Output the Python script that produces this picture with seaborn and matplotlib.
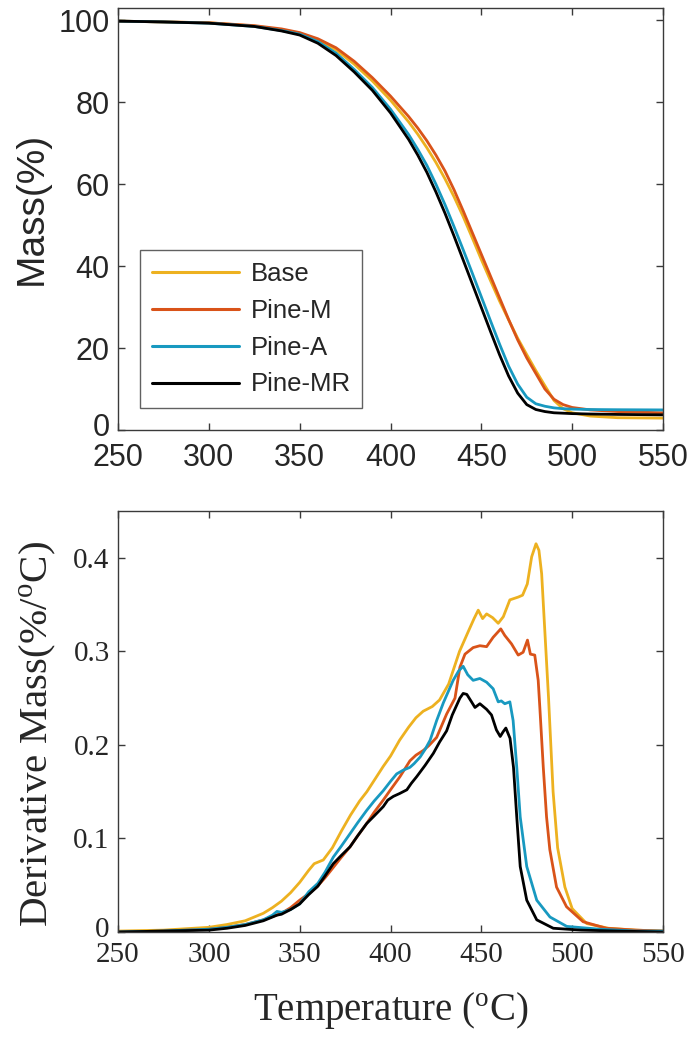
import numpy as np
import pandas as pd
import matplotlib
matplotlib.use("Agg")
import matplotlib.pyplot as plt
import matplotlib.transforms as mtransforms
import seaborn as sns

# ---------------- data ----------------
series_names = ["Base", "Pine-M", "Pine-A", "Pine-MR"]
series_colors = ["#EDB120", "#D95319", "#1899C0", "#000000"]

# TG curves (Mass %), common temperature grid
T_tg = [250, 275, 300, 325, 340, 350, 360, 370, 380, 390, 400, 410, 415, 420, 425, 430, 435,
        440, 445, 450, 455, 460, 465, 470, 475, 480, 485, 490, 495, 500, 510, 525, 550]
mass_base = [99.8, 99.6, 99.4, 98.6, 97.7, 96.8, 95.2, 92.8, 89.3, 85.2, 80.5, 75.2, 72.2, 68.9, 65.3, 61.3, 56.9,
             52.1, 46.9, 41.6, 36.5, 31.5, 26.9, 22.4, 18.4, 14.5, 10.8, 7.2, 5.2, 4.2, 3.4, 3.0, 2.9]
mass_pine_m = [99.8, 99.6, 99.4, 98.7, 97.9, 97.0, 95.5, 93.3, 90.0, 86.0, 81.5, 76.5, 73.7, 70.6, 67.1, 63.2, 58.6,
               53.5, 48.2, 42.9, 37.6, 32.3, 27.0, 22.0, 17.6, 13.8, 10.0, 7.5, 6.2, 5.5, 4.9, 4.5, 4.2]
mass_pine_a = [99.8, 99.6, 99.3, 98.5, 97.5, 96.6, 94.8, 92.0, 88.0, 83.6, 78.3, 72.1, 68.5, 64.6, 60.0, 55.0, 49.6,
               44.0, 38.3, 32.5, 26.7, 21.0, 15.6, 11.2, 8.0, 6.4, 5.8, 5.4, 5.2, 5.1, 5.0, 4.95, 4.9]
mass_pine_mr = [99.8, 99.6, 99.3, 98.5, 97.4, 96.4, 94.4, 91.4, 87.4, 82.9, 77.4, 70.9, 67.1, 62.9, 58.1, 52.9, 47.3,
                41.5, 35.7, 29.9, 24.1, 18.4, 13.2, 9.0, 6.2, 5.0, 4.5, 4.2, 4.1, 4.0, 3.9, 3.8, 3.7]

# DTG curves: (temperature, derivative mass) pairs
dtg_base = [(250, 0.001), (275, 0.002), (300, 0.005), (310, 0.008), (320, 0.012), (330, 0.020), (335, 0.026),
            (340, 0.033), (345, 0.042), (350, 0.053), (355, 0.066), (358, 0.073), (363, 0.077), (368, 0.090),
            (373, 0.108), (378, 0.125), (383, 0.140), (387, 0.150), (391, 0.162), (396, 0.177), (400, 0.188),
            (405, 0.205), (410, 0.219), (414, 0.229), (418, 0.236), (423, 0.241), (427, 0.248), (432, 0.265),
            (438, 0.300), (443, 0.322), (446, 0.335), (448.3, 0.344), (450.7, 0.335), (452.9, 0.340),
            (456.2, 0.336), (459.3, 0.330), (462.1, 0.337), (465.7, 0.355), (470.3, 0.358), (472.7, 0.360),
            (475.3, 0.372), (477.7, 0.401), (480.1, 0.415), (481.7, 0.408), (483.2, 0.383), (485, 0.320),
            (487, 0.250), (489.5, 0.150), (492, 0.090), (496, 0.048), (500, 0.025), (508, 0.009), (520, 0.004),
            (535, 0.002), (550, 0.001)]
dtg_pine_m = [(250, 0.000), (275, 0.001), (300, 0.003), (310, 0.005), (320, 0.008), (330, 0.013), (340, 0.020),
              (345, 0.026), (350, 0.034), (355, 0.041), (359.4, 0.048), (364, 0.058), (368.5, 0.069), (373, 0.080),
              (377.7, 0.091), (382, 0.103), (386.9, 0.116), (391, 0.128), (396, 0.141), (400, 0.152),
              (405.2, 0.166), (410.7, 0.183), (414, 0.189), (418, 0.194), (421, 0.199), (425.4, 0.208),
              (430.9, 0.233), (435.5, 0.250), (438.2, 0.283), (441, 0.297), (445.5, 0.304), (449.2, 0.306),
              (452.9, 0.305), (456.5, 0.315), (460.7, 0.324), (462.9, 0.317), (466.6, 0.308), (470.3, 0.296),
              (473, 0.299), (475.4, 0.312), (477, 0.297), (479.4, 0.296), (481.3, 0.269), (482.2, 0.240),
              (484.1, 0.176), (485.9, 0.123), (487.7, 0.088), (491.4, 0.048), (496.9, 0.027), (506, 0.011),
              (518.8, 0.004), (535, 0.002), (550, 0.001)]
dtg_pine_a = [(250, 0.000), (275, 0.001), (300, 0.003), (310, 0.005), (320, 0.008), (330, 0.013), (335, 0.018),
              (337.5, 0.022), (340, 0.021), (345, 0.024), (350, 0.030), (355, 0.043), (360, 0.052), (364, 0.064),
              (368.5, 0.080), (373, 0.092), (377.7, 0.105), (382, 0.117), (386.9, 0.130), (391, 0.140),
              (396, 0.151), (400, 0.161), (403.4, 0.169), (407, 0.173), (410.7, 0.176), (413, 0.180),
              (416.3, 0.187), (419, 0.195), (421.8, 0.205), (425.4, 0.226), (429.1, 0.245), (434.5, 0.269),
              (437.5, 0.279), (440, 0.284), (442.5, 0.275), (445.5, 0.269), (449.2, 0.271), (452.9, 0.267),
              (456.5, 0.260), (459.3, 0.246), (461, 0.247), (462.9, 0.244), (465.7, 0.246), (467.5, 0.226),
              (469.5, 0.176), (471.4, 0.123), (475, 0.070), (480.5, 0.034), (487.8, 0.016), (497, 0.006),
              (515, 0.003), (535, 0.001), (550, 0.001)]
dtg_pine_mr = [(250, 0.000), (275, 0.001), (300, 0.002), (310, 0.004), (320, 0.007), (330, 0.012), (337.5, 0.018),
               (340, 0.019), (345, 0.024), (350, 0.030), (355, 0.040), (360, 0.049), (364, 0.060), (368.5, 0.073),
               (373, 0.082), (377.7, 0.091), (382, 0.103), (386.9, 0.116), (391, 0.124), (396, 0.134),
               (398.5, 0.141), (401.6, 0.145), (405, 0.148), (409, 0.152), (411.5, 0.159), (414.4, 0.166),
               (419, 0.178), (423.6, 0.191), (427, 0.203), (430.9, 0.215), (434, 0.232), (438.2, 0.250),
               (440, 0.255), (442, 0.254), (444.6, 0.246), (446.5, 0.240), (449.2, 0.244), (452.9, 0.238),
               (455.6, 0.232), (458.3, 0.216), (460.4, 0.209), (462, 0.214), (463.5, 0.218), (465.8, 0.207),
               (467.7, 0.176), (469.5, 0.123), (471.4, 0.070), (475, 0.034), (480.5, 0.013), (489.6, 0.004),
               (505, 0.002), (525, 0.001), (550, 0.000)]

x_ticks = [250, 300, 350, 400, 450, 500, 550]
mass_ticks = [0, 20, 40, 60, 80, 100]
dtg_ticks = [0, 0.1, 0.2, 0.3, 0.4]
dtg_tick_labels = ["0", "0.1", "0.2", "0.3", "0.4"]

# ---------------- frames ----------------
tg_frames = []
for name, vals in zip(series_names, [mass_base, mass_pine_m, mass_pine_a, mass_pine_mr]):
    tg_frames.append(pd.DataFrame({"T": T_tg, "val": vals, "series": name}))
tg_df = pd.concat(tg_frames, ignore_index=True)

dtg_frames = []
for name, pairs in zip(series_names, [dtg_base, dtg_pine_m, dtg_pine_a, dtg_pine_mr]):
    arr = np.array(pairs)
    dtg_frames.append(pd.DataFrame({"T": arr[:, 0], "val": arr[:, 1], "series": name}))
dtg_df = pd.concat(dtg_frames, ignore_index=True)

palette = dict(zip(series_names, series_colors))

# ---------------- style ----------------
sns.set_style("white")
plt.rcParams["mathtext.fontset"] = "custom"
plt.rcParams["mathtext.rm"] = "Liberation Serif"
plt.rcParams["mathtext.it"] = "Liberation Serif:italic"

W, H = 692, 1038
fig = plt.figure(figsize=(W / 100, H / 100), dpi=100)
ax1 = fig.add_axes([118 / W, (H - 430) / H, 545 / W, 422 / H])
ax2 = fig.add_axes([118 / W, (H - 932) / H, 545 / W, 421 / H])

spine_col = "#3a3a3a"
text_col = "#262626"

# ---- top: TG ----
sns.lineplot(data=tg_df, x="T", y="val", hue="series", hue_order=series_names, palette=palette,
             linewidth=2.0, errorbar=None, ax=ax1, sort=False)
ax1.set_xlim(250, 550)
ax1.set_ylim(0, 103)
ax1.set_xticks(x_ticks)
ax1.set_yticks(mass_ticks)
ax1.set_xlabel("")
ax1.set_ylabel("Mass(%)", fontsize=28, family="Liberation Sans", color=text_col)
ax1.yaxis.set_label_coords(-0.125, 0.525)
for lab in ax1.get_xticklabels() + ax1.get_yticklabels():
    lab.set_family("Liberation Sans")
    lab.set_fontsize(22)
    lab.set_color(text_col)

leg = ax1.legend(loc="lower left", bbox_to_anchor=(0.0404, 0.052), borderaxespad=0,
                 frameon=True, fancybox=False, prop={"family": "Liberation Sans", "size": 18.5},
                 handlelength=3.4, handletextpad=0.45, labelspacing=0.5, borderpad=0.45)
leg.get_frame().set_edgecolor(spine_col)
leg.get_frame().set_linewidth(1.0)
for line in leg.get_lines():
    line.set_linewidth(2.2)

# ---- bottom: DTG ----
sns.lineplot(data=dtg_df, x="T", y="val", hue="series", hue_order=series_names, palette=palette,
             linewidth=2.0, errorbar=None, ax=ax2, sort=False, legend=False)
ax2.set_xlim(250, 550)
ax2.set_ylim(0, 0.45)
ax2.set_xticks(x_ticks)
ax2.set_yticks(dtg_ticks)
ax2.set_yticklabels(dtg_tick_labels)
ax2.set_xlabel(r"Temperature ($^{\mathrm{o}}$C)", fontsize=28, family="Liberation Serif",
               color=text_col, labelpad=16)
ax2.set_ylabel(r"Derivative Mass(%/$^{\mathrm{o}}$C)", fontsize=29.5, family="Liberation Serif",
               color=text_col)
ax2.yaxis.set_label_coords(-0.11, 0.47)
for lab in ax2.get_xticklabels() + ax2.get_yticklabels():
    lab.set_family("Liberation Serif")
    lab.set_fontsize(21)
    lab.set_color(text_col)

for ax in (ax1, ax2):
    for sp in ax.spines.values():
        sp.set_visible(True)
        sp.set_color(spine_col)
        sp.set_linewidth(1.0)
    ax.tick_params(direction="in", length=5, width=1.0, color=spine_col, top=True, right=True,
                   bottom=True, left=True)
    ax.tick_params(axis="y", pad=6)
ax1.tick_params(axis="x", pad=9)
ax2.tick_params(axis="x", pad=7)

# nudge the "0" y tick labels up slightly so they don't collide with the "250" x tick labels
for ax in (ax1, ax2):
    zero_lab = ax.yaxis.get_major_ticks()[0].label1
    zero_lab.set_transform(zero_lab.get_transform() +
                           mtransforms.ScaledTranslation(0, 5 / 100, fig.dpi_scale_trans))

fig.savefig("out.png", dpi=100)
